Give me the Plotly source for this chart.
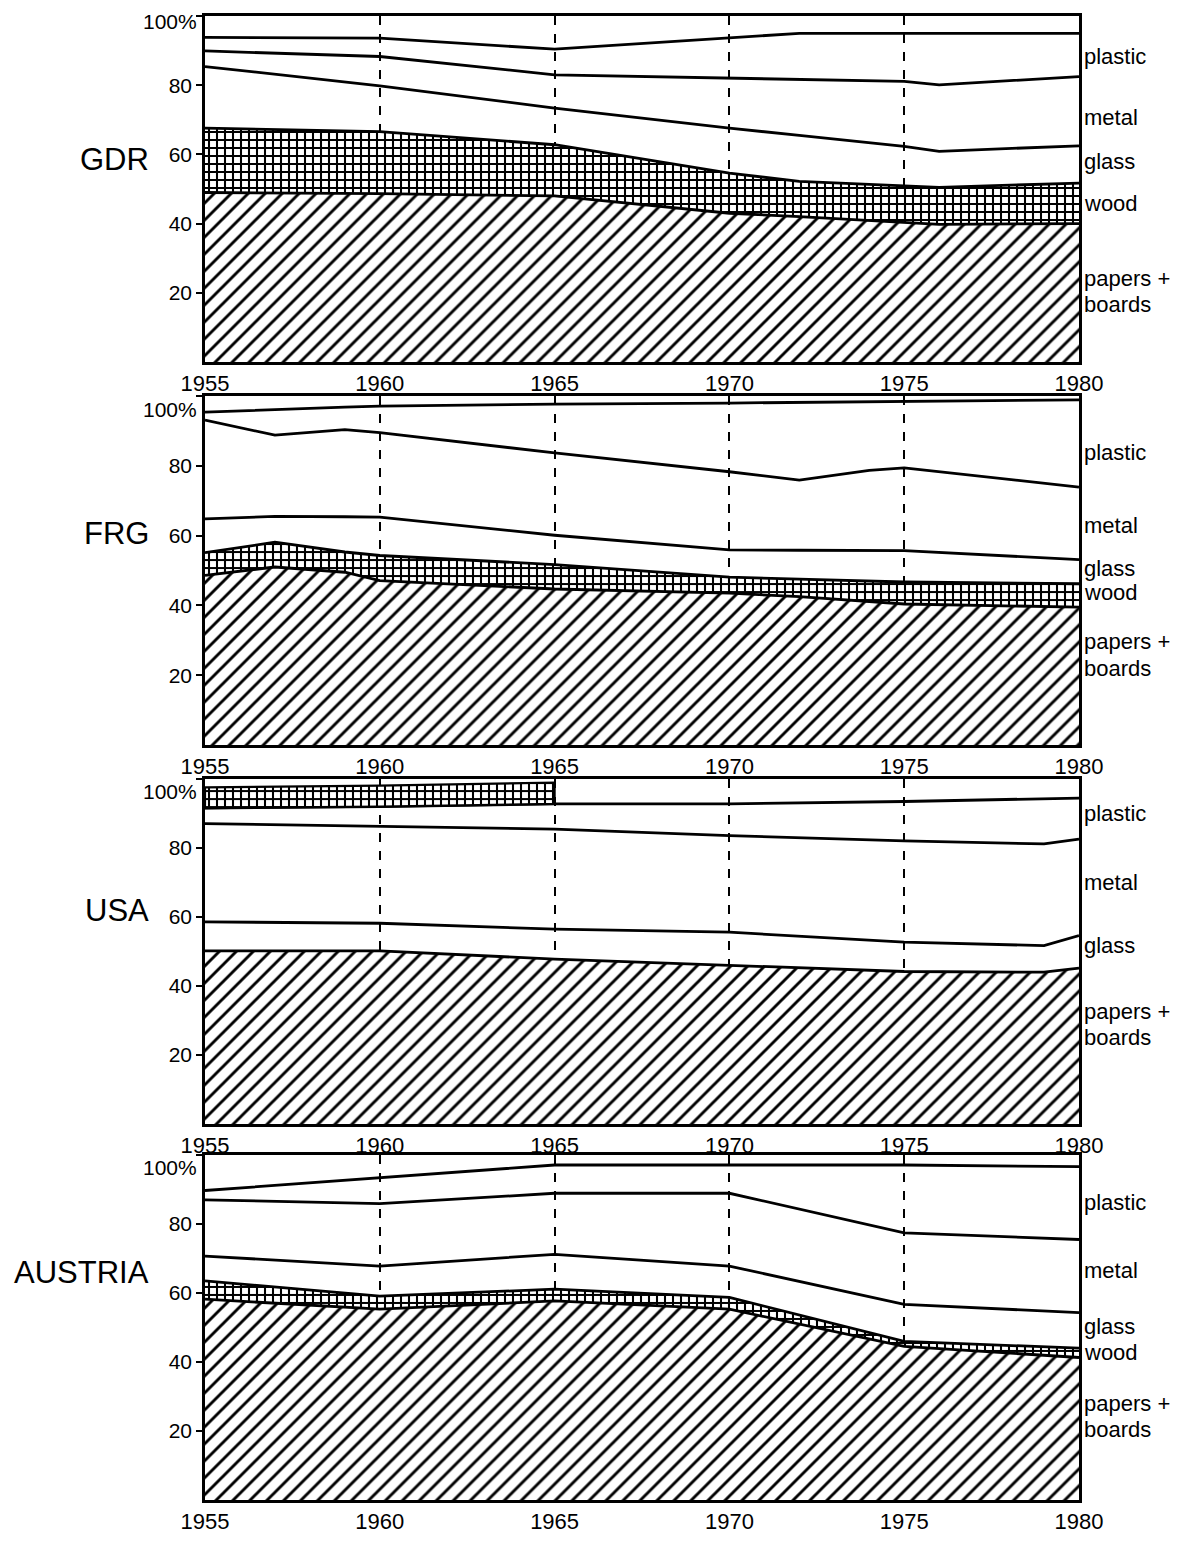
import numpy as np
import plotly.graph_objects as go

# ---------------- data (percent shares) ----------------
gdr_years = [1955, 1960, 1965, 1970, 1972, 1975, 1976, 1980]
gdr_paper = [49.0, 48.7, 48.0, 43.0, 42.0, 40.5, 39.8, 40.0]
gdr_wood = [18.6, 17.9, 14.8, 11.6, 10.2, 10.3, 10.7, 11.7]
gdr_glass = [17.8, 13.2, 10.6, 13.0, 13.3, 11.5, 10.4, 10.8]
gdr_metal = [4.5, 8.5, 9.6, 14.4, 16.1, 18.8, 19.2, 20.0]
gdr_plastic = [3.9, 5.3, 7.4, 11.6, 13.4, 13.9, 14.9, 12.5]

frg_years = [1955, 1957, 1959, 1960, 1965, 1970, 1972, 1974, 1975, 1980]
frg_paper = [48.6, 51.0, 49.5, 47.1, 44.7, 43.5, 42.5, 41.0, 40.4, 39.5]
frg_wood = [6.5, 7.1, 5.8, 7.2, 7.0, 4.6, 5.0, 6.0, 6.3, 6.7]
frg_glass = [9.7, 7.4, 10.1, 11.0, 8.4, 7.8, 8.3, 8.8, 9.0, 6.9]
frg_metal = [28.3, 23.3, 25.0, 24.2, 23.6, 22.4, 20.1, 22.9, 23.7, 20.8]
frg_plastic = [2.3, 7.4, 6.4, 7.6, 14.0, 19.7, 22.3, 19.8, 19.2, 25.0]

usa_years = [1955, 1960, 1965, 1970, 1975, 1979, 1980]
usa_paper = [50.2, 50.2, 47.8, 45.9, 44.2, 44.0, 45.2]
usa_glass = [8.4, 8.0, 8.7, 9.7, 8.5, 7.7, 9.4]
usa_metal = [28.5, 28.0, 29.0, 28.0, 29.4, 29.5, 28.0]
usa_plastic = [4.5, 5.8, 7.3, 9.2, 11.4, 13.1, 11.9]
usa_wood_years = [1955, 1960, 1965]
usa_wood = [6.0, 6.1, 6.2]

aut_years = [1955, 1960, 1965, 1970, 1975, 1980]
aut_paper = [58.2, 55.3, 57.7, 55.3, 44.5, 41.3]
aut_wood = [5.3, 3.8, 3.4, 3.4, 1.5, 2.7]
aut_glass = [7.2, 8.7, 10.1, 9.1, 10.7, 10.3]
aut_metal = [16.3, 18.1, 17.7, 21.1, 20.7, 21.2]
aut_plastic = [2.7, 7.6, 8.2, 8.2, 19.7, 21.1]

countries = ["GDR", "FRG", "USA", "AUSTRIA"]
x_ticks = [1955, 1960, 1965, 1970, 1975, 1980]
y_ticks = [20, 40, 60, 80, 100]
y_ticktext = ["20", "40", "60", "80", ""]   # "100%" is placed as its own text below

# ---------------- styling ----------------
FONT = "Liberation Sans, Arial, sans-serif"
LINE_W = 2.8
HATCH = dict(shape="/", size=12, solidity=0.24, fgcolor="black", bgcolor="white", fillmode="replace")
GRID = dict(shape="+", size=8, solidity=0.45, fgcolor="black", bgcolor="white", fillmode="replace")

domains = [[0.7668, 1.0], [0.5088, 0.7439], [0.2534, 0.4858], [0.0, 0.2325]]

panels = [
    (gdr_years, [("papers+boards", gdr_paper, HATCH), ("wood", gdr_wood, GRID),
                 ("glass", gdr_glass, None), ("metal", gdr_metal, None), ("plastic", gdr_plastic, None)]),
    (frg_years, [("papers+boards", frg_paper, HATCH), ("wood", frg_wood, GRID),
                 ("glass", frg_glass, None), ("metal", frg_metal, None), ("plastic", frg_plastic, None)]),
    (usa_years, [("papers+boards", usa_paper, HATCH), ("glass", usa_glass, None),
                 ("metal", usa_metal, None), ("plastic", usa_plastic, None)]),
    (aut_years, [("papers+boards", aut_paper, HATCH), ("wood", aut_wood, GRID),
                 ("glass", aut_glass, None), ("metal", aut_metal, None), ("plastic", aut_plastic, None)]),
]

fig = go.Figure()

for i, (years, layers) in enumerate(panels, start=1):
    xa = "x" if i == 1 else f"x{i}"
    ya = "y" if i == 1 else f"y{i}"
    bottom = np.zeros(len(years))
    tops = {}
    for j, (name, share, pat) in enumerate(layers):
        top = bottom + np.array(share)
        tops[name] = top
        kw = {}
        if pat is not None:
            kw["fill"] = "tozeroy" if j == 0 else "tonexty"
            kw["fillpattern"] = pat
        fig.add_trace(go.Scatter(x=years, y=top, mode="lines", name=name,
                                 line=dict(color="black", width=LINE_W),
                                 xaxis=xa, yaxis=ya, showlegend=False, **kw))
        bottom = top
    if i == 3:
        # USA wood band on top of the stack, reported only 1955-1965
        base = np.array([tops["plastic"][years.index(y)] for y in usa_wood_years])
        upper = base + np.array(usa_wood)
        px = usa_wood_years + usa_wood_years[::-1]
        py = list(upper) + list(base[::-1])
        fig.add_trace(go.Scatter(x=px + [px[0]], y=py + [py[0]], mode="lines", fill="toself",
                                 fillpattern=GRID, line=dict(color="black", width=2.2),
                                 xaxis=xa, yaxis=ya, showlegend=False, name="wood"))

axis_common_x = dict(range=[1955, 1980], tickvals=x_ticks, ticktext=[str(t) for t in x_ticks],
                     showgrid=True, gridcolor="black", griddash="dash", gridwidth=1.6,
                     showline=True, mirror=True, linecolor="black", linewidth=2.6,
                     ticks="", zeroline=False,
                     automargin=False, tickfont=dict(family=FONT, size=22, color="black"))
axis_common_y = dict(range=[0, 100], tickvals=y_ticks, ticktext=y_ticktext,
                     showgrid=False, showline=True, mirror=True, linecolor="black", linewidth=2.6,
                     ticks="outside", ticklen=6, tickwidth=2, tickcolor="black", zeroline=False,
                     automargin=False, tickfont=dict(family=FONT, size=21, color="black"))

layout = {}
for i in range(1, 5):
    xk = "xaxis" if i == 1 else f"xaxis{i}"
    yk = "yaxis" if i == 1 else f"yaxis{i}"
    ya = "y" if i == 1 else f"y{i}"
    xa = "x" if i == 1 else f"x{i}"
    layout[xk] = dict(axis_common_x, domain=[0, 1], anchor=ya)
    layout[yk] = dict(axis_common_y, domain=domains[i - 1], anchor=xa)

fig.update_layout(**layout)

# country labels (left) and material labels (right)
country_y = [58.5, 60.5, 62.0, 66.0]
pct_shift = [-5, -13, -12, -13]
right_labels = [
    [("plastic", 88.2), ("metal", 70.8), ("glass", 58.1), ("wood", 45.7), ("papers +", 24.2), ("boards", 16.5)],
    [("plastic", 83.7), ("metal", 63.0), ("glass", 50.7), ("wood", 43.8), ("papers +", 29.6), ("boards", 22.0)],
    [("plastic", 90.1), ("metal", 69.9), ("glass", 51.6), ("papers +", 32.5), ("boards", 25.0)],
    [("plastic", 86.3), ("metal", 66.4), ("glass", 50.3), ("wood", 42.7), ("papers +", 28.0), ("boards", 20.5)],
]
annotations = []
for i in range(1, 5):
    ya = "y" if i == 1 else f"y{i}"
    annotations.append(dict(text=countries[i - 1], xref="paper", yref=ya, x=0, xshift=-54,
                            y=country_y[i - 1], xanchor="right", yanchor="middle", showarrow=False,
                            font=dict(family=FONT, size=31, color="black")))
    annotations.append(dict(text="100%", xref="paper", yref=ya, x=0, xshift=-6, y=100,
                            yshift=pct_shift[i - 1], xanchor="right", yanchor="middle",
                            showarrow=False, font=dict(family=FONT, size=21, color="black")))
    for txt, yy in right_labels[i - 1]:
        annotations.append(dict(text=txt, xref="paper", yref=ya, x=1.0, xshift=3, y=yy,
                                xanchor="left", yanchor="middle", align="left", showarrow=False,
                                font=dict(family=FONT, size=22, color="black")))

fig.update_layout(annotations=annotations, width=1181, height=1547,
                  margin=dict(l=205, r=102, t=16, b=47, autoexpand=False),
                  paper_bgcolor="white", plot_bgcolor="white",
                  font=dict(family=FONT, color="black"), showlegend=False)

fig.write_html("out.html", config={"displayModeBar": False},
               post_script="document.body.style.margin='0';")
